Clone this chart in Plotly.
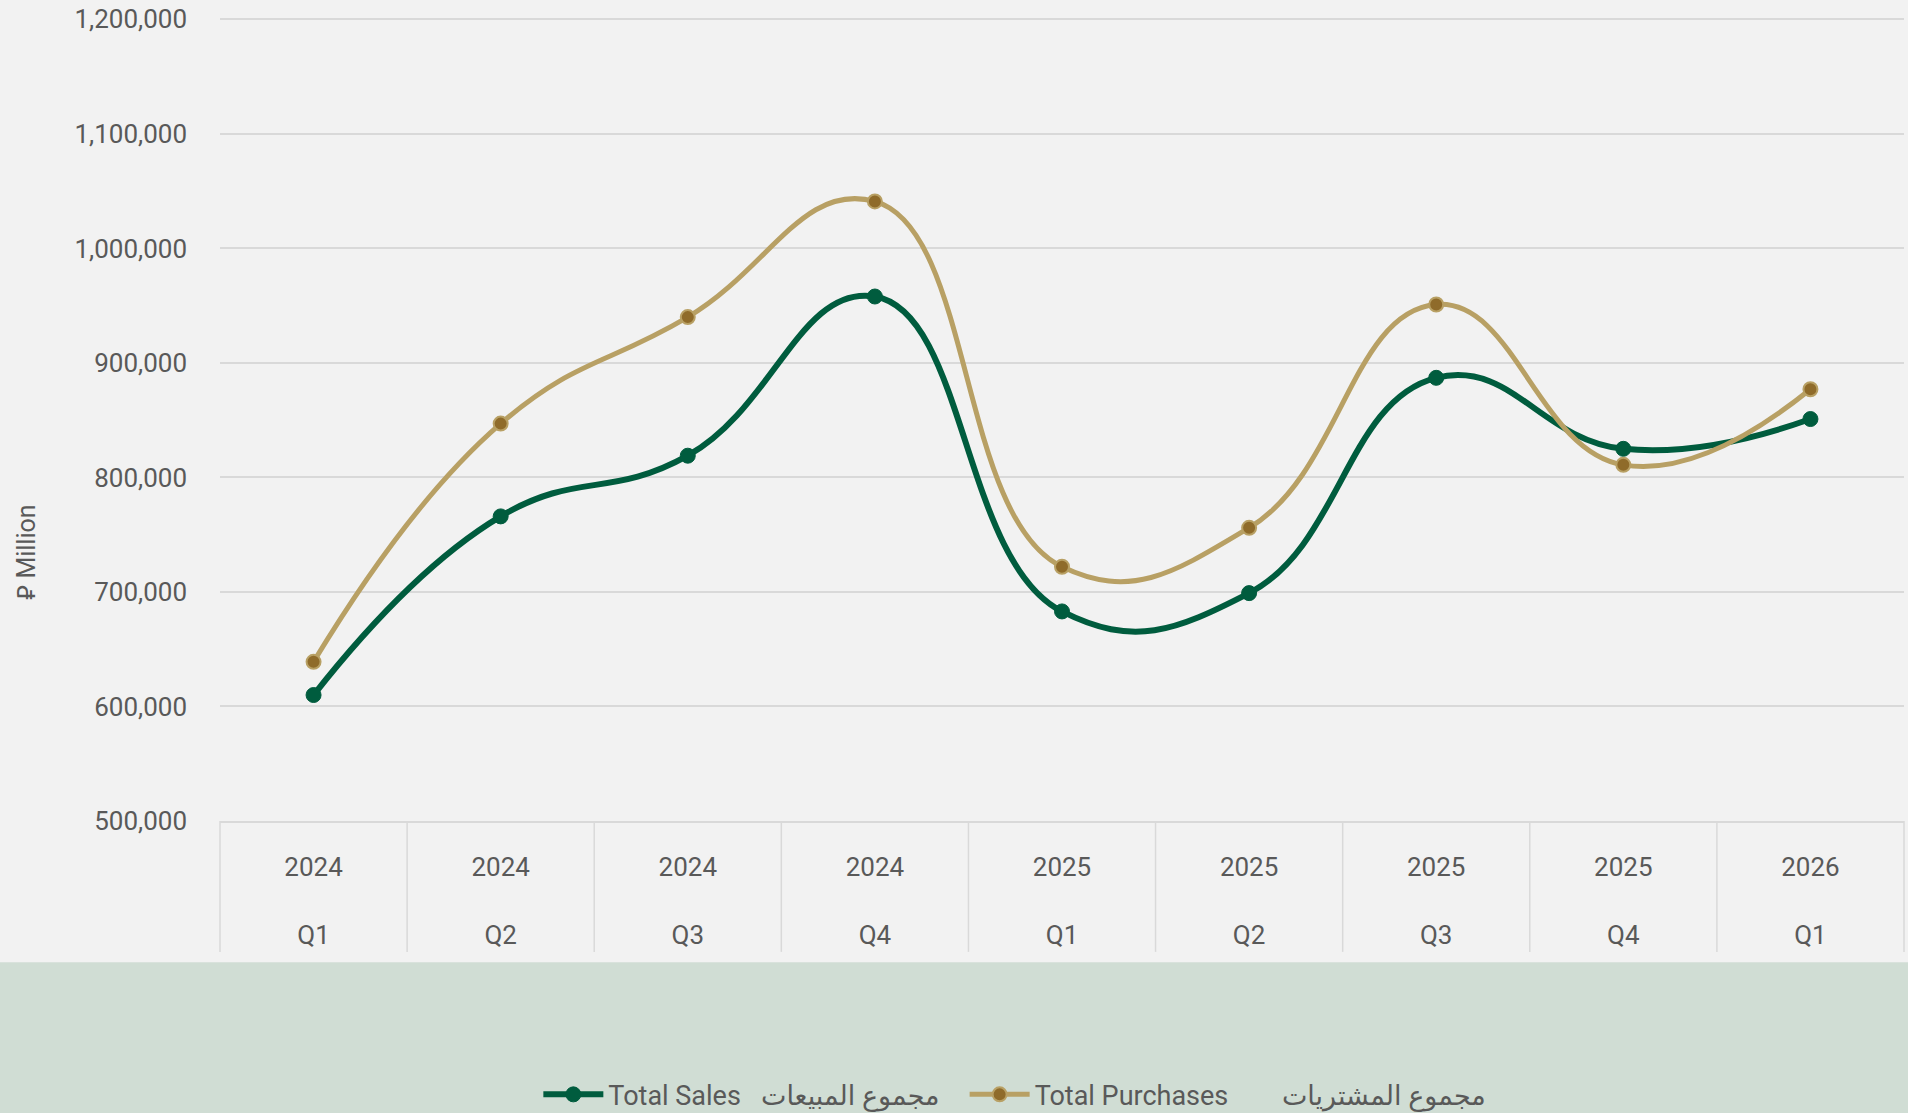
import plotly.graph_objects as go

years = ["2024", "2024", "2024", "2024", "2025", "2025", "2025", "2025", "2026"]
quarters = ["Q1", "Q2", "Q3", "Q4", "Q1", "Q2", "Q3", "Q4", "Q1"]
total_sales = [610000, 766000, 819000, 958000, 683000, 699000, 887000, 825000, 851000]
total_purchases = [639000, 847000, 940000, 1041000, 722000, 756000, 951000, 811000, 877000]
y_ticks = [500000, 600000, 700000, 800000, 900000, 1000000, 1100000, 1200000]

sales_name = "Total Sales\u00a0\u00a0\u00a0مجموع المبيعات\u00a0\u00a0\u00a0"
purch_name = "Total Purchases" + "\u00a0" * 8 + "مجموع المشتريات"
y_title = "\u20C1 Million"

cats = [f"{y} {q}" for y, q in zip(years, quarters)]
ticktext = [f"{y}<br><br>{q}" for y, q in zip(years, quarters)]

GREEN = "rgb(0,92,62)"
TAN = "rgb(184,160,100)"
BROWN = "rgb(143,107,42)"
TXT = "#595959"
GRID = "#d9d9d9"

fig = go.Figure()
fig.add_trace(go.Scatter(
    x=cats, y=total_sales, name=sales_name, mode="lines+markers",
    line=dict(color=GREEN, width=6, shape="spline", smoothing=1.3),
    marker=dict(color=GREEN, size=15, line=dict(color=GREEN, width=1)),
))
fig.add_trace(go.Scatter(
    x=cats, y=total_purchases, name=purch_name, mode="lines+markers",
    line=dict(color=TAN, width=5, shape="spline", smoothing=1.3),
    marker=dict(color=BROWN, size=14, line=dict(color=TAN, width=2)),
))

n = len(cats)
shapes = [dict(type="rect", xref="paper", yref="paper", x0=-0.2, x1=1.1,
               y0=-0.176, y1=-0.5, fillcolor="rgb(208,221,212)", line=dict(width=0),
               layer="below")]
for i in range(n + 1):
    shapes.append(dict(type="line", xref="paper", yref="paper", x0=i / n, x1=i / n,
                       y0=0, y1=-0.163, line=dict(color=GRID, width=1.5)))

fig.update_layout(
    width=1908, height=1113,
    margin=dict(l=220, r=4, t=18, b=292, autoexpand=False),
    paper_bgcolor="#f2f2f2", plot_bgcolor="#f2f2f2",
    font=dict(family="Roboto, DejaVu Sans", color=TXT, size=26),
    shapes=shapes,
    showlegend=True,
    legend=dict(orientation="h", x=0.472, xanchor="center", y=-0.341, yanchor="middle",
                font=dict(size=27, color=TXT), bgcolor="rgba(0,0,0,0)", itemwidth=60),
    xaxis=dict(type="category", tickmode="array", tickvals=cats, ticktext=ticktext,
               showgrid=False, showline=True, linecolor=GRID, linewidth=1.5,
               ticks="", ticklabelstandoff=22, tickfont=dict(size=26, color=TXT),
               range=[-0.5, n - 0.5], fixedrange=True, automargin=False),
    yaxis=dict(range=[500000, 1201200], tickvals=y_ticks, tickformat=",",
               showgrid=True, gridcolor=GRID, gridwidth=1.5, zeroline=False,
               ticks="", ticklabelstandoff=32, tickfont=dict(size=26, color=TXT),
               automargin=False),
    annotations=[dict(text=y_title, xref="paper", yref="paper", x=-0.1146, y=0.334,
                      xanchor="center", yanchor="middle", textangle=-90, showarrow=False,
                      font=dict(size=25, color=TXT))],
)

fig.write_html("out.html", config={"displayModeBar": False},
               post_script="document.body.style.margin='0';document.body.style.overflow='hidden';")
